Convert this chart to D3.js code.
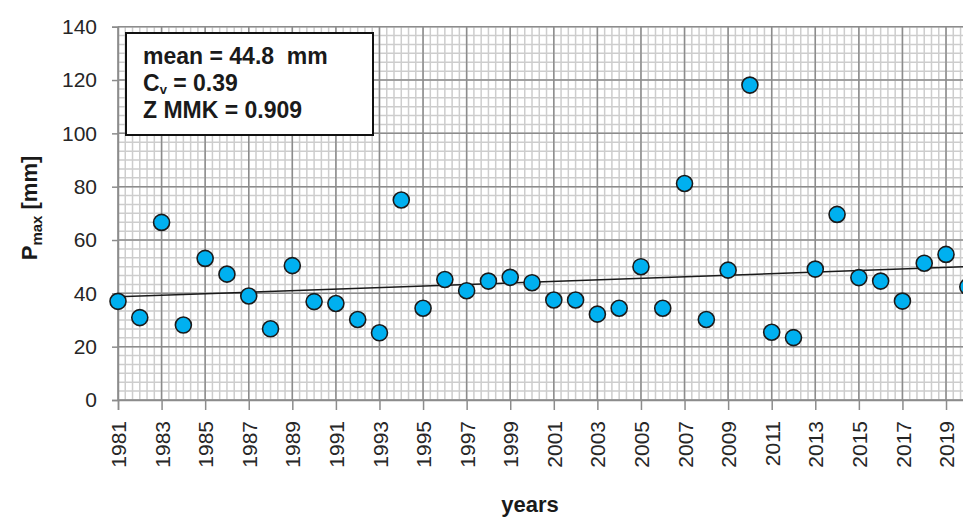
<!DOCTYPE html>
<html>
<head>
<meta charset="utf-8">
<script src="https://cdn.jsdelivr.net/npm/d3@7"></script>
<style>
  body { margin: 0; background: #fff; }
  svg { display: block; font-family: "Liberation Sans", Arial, sans-serif; }
  .tick text { fill: #262626; font-size: 21px; }
</style>
</head>
<body>
<div id="chart"></div>
<script>
// data
const years = [1981, 1982, 1983, 1984, 1985, 1986, 1987, 1988, 1989, 1990,
  1991, 1992, 1993, 1994, 1995, 1996, 1997, 1998, 1999, 2000,
  2001, 2002, 2003, 2004, 2005, 2006, 2007, 2008, 2009, 2010,
  2011, 2012, 2013, 2014, 2015, 2016, 2017, 2018, 2019, 2020];
const pmax = [37, 30.9, 66.6, 28.1, 53.1, 47.2, 39, 26.7, 50.4, 36.9,
  36.2, 30.2, 25.2, 75, 34.4, 45.2, 41, 44.6, 46, 44,
  37.5, 37.5, 32.2, 34.4, 50, 34.4, 81.2, 30.2, 48.7, 118.1,
  25.4, 23.4, 49.1, 69.6, 45.9, 44.6, 37.1, 51.3, 54.6, 42.5];
const trendYears = [1981, 2021];
const trendValues = [38.7, 50.3];
const xTickLabels = [1981, 1983, 1985, 1987, 1989, 1991, 1993, 1995, 1997, 1999,
  2001, 2003, 2005, 2007, 2009, 2011, 2013, 2015, 2017, 2019];
const yTickLabels = [0, 20, 40, 60, 80, 100, 120, 140];
const statLines = ["mean = 44.8  mm", "C|v| = 0.39", "Z MMK = 0.909"];

const width = 963, height = 519;
const svg = d3.select("#chart").append("svg")
  .attr("width", width)
  .attr("height", height);

//scales
const x = d3.scaleLinear().domain([1981, 2021]).range([118, 118 + 40 * 21.79]);
const y = d3.scaleLinear().domain([0, 140]).range([400, 26.7]);

//minor grid, 6 steps between major lines
const grid = svg.append("g");
grid.selectAll("line.vminor")
  .data(d3.range(0, 121).map(i => 1981 + i / 3))
  .join("line")
  .attr("x1", d => x(d)).attr("x2", d => x(d))
  .attr("y1", y(0)).attr("y2", y(140))
  .attr("stroke", "#cdcdcd").attr("stroke-width", 1.5);
grid.selectAll("line.hminor")
  .data(d3.range(0, 43).map(i => i * 20 / 6))
  .join("line")
  .attr("x1", x(1981)).attr("x2", x(2021))
  .attr("y1", d => y(d)).attr("y2", d => y(d))
  .attr("stroke", "#cdcdcd").attr("stroke-width", 1.5);

//major grid
grid.selectAll("line.vmajor")
  .data(xTickLabels.concat([2021]))
  .join("line")
  .attr("x1", d => x(d)).attr("x2", d => x(d))
  .attr("y1", y(0)).attr("y2", y(140))
  .attr("stroke", "#8c8c8c").attr("stroke-width", 1.5);
grid.selectAll("line.hmajor")
  .data(yTickLabels)
  .join("line")
  .attr("x1", x(1981)).attr("x2", x(2021))
  .attr("y1", d => y(d)).attr("y2", d => y(d))
  .attr("stroke", "#8c8c8c").attr("stroke-width", 1.5);

//axes
const yAxis = svg.append("g")
  .attr("transform", `translate(${x(1981)},0)`)
  .call(d3.axisLeft(y).tickValues(yTickLabels).tickSize(6).tickPadding(15));
const xAxis = svg.append("g")
  .attr("transform", `translate(0,${y(0)})`)
  .call(d3.axisBottom(x).tickValues(xTickLabels).tickFormat(d3.format("d")).tickSize(10));
xAxis.selectAll(".tick text")
  .attr("transform", "rotate(-90)")
  .attr("text-anchor", "end")
  .attr("x", -21)
  .attr("y", 0)
  .attr("dy", "0.36em");
[xAxis, yAxis].forEach(a => {
  a.select(".domain").attr("stroke", "#8c8c8c").attr("stroke-width", 1.5);
  a.selectAll(".tick line").attr("stroke", "#8c8c8c").attr("stroke-width", 1.5);
});

//trend line
svg.append("line")
  .attr("x1", x(trendYears[0])).attr("y1", y(trendValues[0]))
  .attr("x2", x(trendYears[1])).attr("y2", y(trendValues[1]))
  .attr("stroke", "#1a1a1a").attr("stroke-width", 1.5);

//points
svg.selectAll("circle.pt")
  .data(years.map((yr, i) => ({yr, v: pmax[i]})))
  .join("circle")
  .attr("cx", d => x(d.yr))
  .attr("cy", d => y(d.v))
  .attr("r", 8)
  .attr("fill", "#00b0f0")
  .attr("stroke", "#1a1a1a")
  .attr("stroke-width", 1.6);

//stats box
svg.append("rect")
  .attr("x", 126).attr("y", 33)
  .attr("width", 247).attr("height", 102)
  .attr("fill", "#fff").attr("stroke", "#111").attr("stroke-width", 2);
statLines.forEach((s, i) => {
  const t = svg.append("text")
    .attr("x", 143).attr("y", 64 + i * 27)
    .attr("font-size", 23).attr("font-weight", "bold")
    .attr("fill", "#1a1a1a")
    .attr("xml:space", "preserve");
  const parts = s.split("|");
  t.append("tspan").text(parts[0]);
  if (parts.length > 1) {
    t.append("tspan").attr("font-size", 13).attr("dy", 3).text(parts[1]);
    t.append("tspan").attr("dy", -3).text(parts[2]);
  }
});

//axis titles
svg.append("text")
  .attr("x", 530).attr("y", 512)
  .attr("text-anchor", "middle")
  .attr("font-size", 22).attr("font-weight", "bold").attr("fill", "#1a1a1a")
  .text("years");
const yt = svg.append("text")
  .attr("transform", "translate(37,208) rotate(-90)")
  .attr("text-anchor", "middle")
  .attr("font-size", 22).attr("font-weight", "bold").attr("fill", "#1a1a1a");
yt.append("tspan").text("P");
yt.append("tspan").attr("font-size", 15).attr("dy", 5).text("max");
yt.append("tspan").attr("dy", -5).text(" [mm]");
</script>
</body>
</html>
